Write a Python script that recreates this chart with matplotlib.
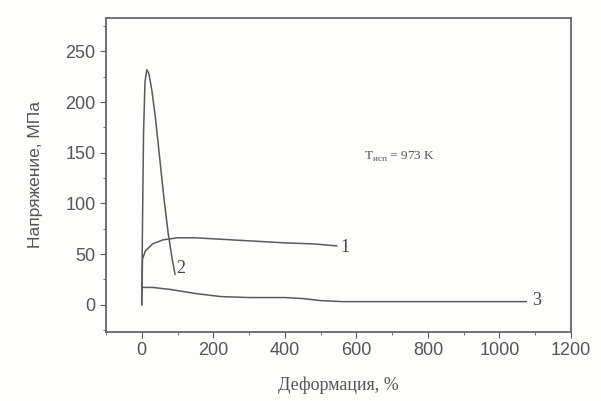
import numpy as np
import matplotlib.pyplot as plt
from matplotlib.ticker import MultipleLocator

# curve 1
x1 = [0, 2, 10, 30, 60, 100, 150, 200, 300, 400, 480, 545]
y1 = [0, 45, 53, 60, 64, 66, 66, 65, 63, 61, 60, 58]
# curve 2
x2 = [0, 2, 5, 9, 14, 20, 28, 38, 50, 62, 74, 85, 93]
y2 = [0, 80, 170, 220, 232, 228, 212, 185, 145, 105, 70, 45, 30]
# curve 3
x3 = [0, 30, 80, 150, 220, 300, 400, 450, 500, 560, 700, 900, 1075]
y3 = [17, 17, 15, 11, 8, 7, 7, 6, 4, 3, 3, 3, 3]

line_col = '#5a5a5a'

fig = plt.figure(figsize=(6.01, 4.01), dpi=100)
fig.patch.set_facecolor('#fdfdfb')
ax = fig.add_axes([106/601, 1 - 332/401, (571-106)/601, (332-18)/401])
ax.set_facecolor('#fdfdfb')

ax.plot(x1, y1, color=line_col, lw=1.1)
ax.plot(x2, y2, color=line_col, lw=1.1)
ax.plot(x3, y3, color=line_col, lw=1.1)

ax.set_xlim(-100, 1200)
ax.set_ylim(-27, 283)
ax.xaxis.set_major_locator(MultipleLocator(200))
ax.xaxis.set_minor_locator(MultipleLocator(100))
ax.yaxis.set_major_locator(MultipleLocator(50))
ax.yaxis.set_minor_locator(MultipleLocator(25))
ax.tick_params(which='both', direction='out', colors=line_col, labelcolor='#555555',
               labelsize=13)
ax.tick_params(which='major', length=4)
ax.tick_params(which='minor', length=2)
for lab in ax.get_xticklabels() + ax.get_yticklabels():
    lab.set_family('Liberation Sans')
for s in ax.spines.values():
    s.set_color('#666666')
    s.set_linewidth(1.3)

ax.set_xlabel('Деформация, %', family='Liberation Serif', fontsize=13, color='#555555',
              labelpad=12)
ax.set_ylabel('Напряжение, МПа', family='Liberation Sans', fontsize=12.5, color='#555555',
              labelpad=16)

ax.text(555, 56, '1', family='Liberation Serif', fontsize=13, color='#444444', va='center')
ax.text(97, 36, '2', family='Liberation Serif', fontsize=13, color='#444444', va='center')
ax.text(1090, 4, '3', family='Liberation Serif', fontsize=13, color='#444444', va='center')
ax.text(620, 146, r'T$_{\mathregular{исп}}$ = 973 K', family='Liberation Serif', fontsize=9.5,
        color='#555555', va='center')

fig.savefig('out.png', dpi=100, facecolor=fig.get_facecolor())
